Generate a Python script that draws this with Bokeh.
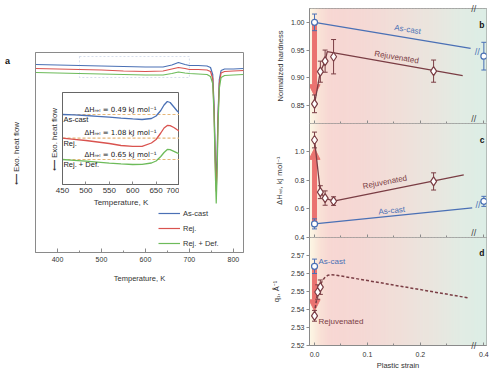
import numpy as np
from bokeh.plotting import figure
from bokeh.layouts import row, column
from bokeh.models import (Range1d, FixedTicker, CustomJSTickFormatter, NumeralTickFormatter,
                          Whisker, TeeHead, Arrow, NormalHead, Label, ColumnDataSource,
                          BoxAnnotation, Div)
from bokeh.core.properties import value
from bokeh.embed import file_html
from bokeh.resources import INLINE

FONT = "Liberation Sans"
BLUE = "#4a70b5"
RED = "#d9534f"
GREEN = "#6dbb5a"
BROWN = "#7a3d44"
ARROW_RED = "#ea7370"
AXIS = "#8a8a8a"
TXT = "#333333"

# ---------------- Panel a: DSC scans (arbitrary heat-flow units) ----------------
dsc_T = [350, 400, 450, 500, 550, 600, 640, 660, 675, 690, 700, 720, 740, 748, 753, 756,
         759, 761, 763, 765, 768, 772, 780, 800, 823]
dsc_ascast = [0.0, -0.005, -0.01, -0.015, -0.02, -0.025, -0.025, -0.005, 0.02, 0.0, -0.01,
              -0.01, -0.015, -0.03, -0.10, -0.40, -0.95, -1.15, -0.90, -0.50, -0.15, -0.06,
              -0.045, -0.045, -0.04]
dsc_rej = [-0.04, -0.045, -0.05, -0.055, -0.065, -0.07, -0.065, -0.045, -0.03, -0.04, -0.05,
           -0.05, -0.055, -0.07, -0.14, -0.45, -1.02, -1.27, -1.00, -0.55, -0.19, -0.085,
           -0.07, -0.065, -0.06]
dsc_rejdef = [-0.08, -0.085, -0.09, -0.095, -0.10, -0.105, -0.105, -0.09, -0.075, -0.085,
              -0.09, -0.095, -0.10, -0.12, -0.19, -0.50, -1.10, -1.39, -1.10, -0.62, -0.24,
              -0.13, -0.11, -0.105, -0.10]
zoom_window = [450, 700]

inset_T = [450, 475, 500, 525, 550, 575, 600, 620, 640, 650, 660, 667, 674, 680, 688, 695, 700]
inset_ascast = [5.8, 5.76, 5.7, 5.62, 5.53, 5.44, 5.36, 5.3, 5.4, 5.65, 6.2, 6.75, 7.1, 7.0,
                6.55, 6.15, 5.93]
inset_rej = [3.43, 3.32, 3.2, 3.05, 2.9, 2.7, 2.62, 2.62, 2.95, 3.3, 3.95, 4.45, 4.7, 4.68,
             4.5, 4.28, 4.13]
inset_rejdef = [1.3, 1.22, 1.13, 1.03, 0.93, 0.86, 0.8, 0.82, 0.95, 1.15, 1.6, 2.0, 2.3, 2.28,
                2.12, 1.97, 1.87]
inset_baseline = [5.8, 3.43, 1.3]
dH_rel = [0.49, 1.08, 0.65]
sample_names = ["As-cast", "Rej.", "Rej. + Def."]

# ---------------- Panels b-d: vs plastic strain ----------------
strain_ascast = [0.0, 0.4]
strain_rej = [0.0, 0.011, 0.020, 0.036, 0.225]

hard_ascast = [1.000, 0.939]
hard_ascast_err = [0.015, 0.025]
hard_rej = [0.853, 0.911, 0.930, 0.938, 0.912]
hard_rej_err = [0.016, 0.019, 0.020, 0.031, 0.020]
hard_ascast_fit_x = [0.0, 0.295]
hard_ascast_fit_y = [1.000, 0.953]
hard_rej_fit_x = [0.0, 0.011, 0.020, 0.024, 0.280]
hard_rej_fit_y = [0.853, 0.911, 0.930, 0.947, 0.904]

dh_ascast = [0.495, 0.652]
dh_ascast_err = [0.035, 0.035]
dh_rej = [1.08, 0.716, 0.675, 0.654, 0.791]
dh_rej_err = [0.055, 0.045, 0.050, 0.030, 0.060]
dh_ascast_fit_x = [0.0, 0.298]
dh_ascast_fit_y = [0.495, 0.607]
dh_rej_fit_x = [0.0, 0.011, 0.020, 0.036, 0.282]
dh_rej_fit_y = [1.08, 0.716, 0.675, 0.654, 0.837]

q_strain_ascast = [0.0]
q_ascast = [2.5640]
q_ascast_err = [0.004]
q_strain_rej = [0.0, 0.006, 0.011]
q_rej = [2.5365, 2.5497, 2.5524]
q_rej_err = [0.003, 0.004, 0.004]
q_rej_fit_x = [0.0, 0.005, 0.010, 0.015, 0.020, 0.025, 0.032, 0.040, 0.290]
q_rej_fit_y = [2.538, 2.548, 2.553, 2.556, 2.558, 2.559, 2.5593, 2.5591, 2.5465]

strain_ticks = [0.0, 0.1, 0.2, 0.4]
strain_minor = [0.05, 0.15, 0.25]

# broken strain axis: 0 .. 0.3 linear, then 0.4 drawn at 0.32
BREAK = 0.30
BREAK_POS = 0.32


def xb(v):
    return v if v <= BREAK else BREAK_POS + (v - 0.4)


XMIN, XMAX = -0.0095, 0.325

GRAD_X = [-0.0095, 0.0, 0.012, 0.03, 0.09, 0.16, 0.23, 0.28, 0.325]
GRAD_RGB = [(252, 247, 230), (251, 238, 222), (249, 224, 214), (247, 215, 211), (245, 216, 212),
            (240, 223, 217), (233, 230, 223), (225, 236, 228), (220, 237, 229)]


def style_axis(ax, size="7px"):
    ax.axis_line_color = AXIS
    ax.major_tick_line_color = AXIS
    ax.minor_tick_line_color = AXIS
    ax.major_label_text_font = FONT
    ax.major_label_text_font_size = size
    ax.major_label_text_color = TXT
    ax.axis_label_text_font = FONT
    ax.axis_label_text_font_style = "normal"
    ax.axis_label_text_color = TXT


def no_tick_yaxis(ax, label, standoff):
    ax.ticker = FixedTicker(ticks=[])
    ax.major_tick_line_color = None
    ax.minor_tick_line_color = None
    ax.major_tick_out = 0
    ax.major_tick_in = 0
    ax.minor_tick_out = 0
    ax.major_label_standoff = 0
    ax.axis_label = label
    ax.axis_label_text_font_size = "8px"
    ax.axis_label_standoff = standoff


# ======================= Panel a (main) =======================
pa = figure(width=260, height=294, x_range=Range1d(350, 823), y_range=Range1d(-1.88, 0.12),
            output_backend="svg", toolbar_location=None,
            min_border_left=27, min_border_right=25, min_border_top=48, min_border_bottom=46)
pa.grid.visible = False
pa.outline_line_color = AXIS
style_axis(pa.xaxis[0])
style_axis(pa.yaxis[0])
pa.xaxis.ticker = FixedTicker(ticks=[400, 500, 600, 700, 800], minor_ticks=[450, 550, 650, 750])
pa.xaxis.major_tick_in = 4
pa.xaxis.major_tick_out = 0
pa.xaxis.minor_tick_in = 2
pa.xaxis.minor_tick_out = 0
pa.xaxis.major_label_standoff = 4
pa.xaxis.axis_label = "Temperature, K"
pa.xaxis.axis_label_text_font_size = "7.5px"
pa.xaxis.axis_label_standoff = 9
no_tick_yaxis(pa.yaxis[0], "\u27f5  Exo. heat flow", 15)

pa.add_layout(BoxAnnotation(left=zoom_window[0], right=zoom_window[1], top=0.08, bottom=-0.13,
                            fill_alpha=0, line_color="#7b96c4", line_dash="2 2", line_width=1))
for ys, c, nm in zip([dsc_ascast, dsc_rej, dsc_rejdef], [BLUE, RED, GREEN], sample_names):
    pa.line(dsc_T, ys, line_color=c, line_width=1.2, legend_label=nm)
pa.legend.location = (121, 2)
pa.legend.background_fill_alpha = 0
pa.legend.border_line_alpha = 0
pa.legend.label_text_font = FONT
pa.legend.label_text_font_size = "7.5px"
pa.legend.label_text_color = TXT
pa.legend.glyph_width = 22
pa.legend.glyph_height = 10
pa.legend.label_height = 10
pa.legend.spacing = 5
pa.legend.padding = 2
pa.legend.margin = 0
pa.legend.label_standoff = 3

# ======================= Panel a (inset) =======================
pi = figure(frame_width=117, frame_height=92, x_range=Range1d(450, 700),
            y_range=Range1d(-1.2, 8.0), output_backend="svg", toolbar_location=None,
            min_border_left=17, min_border_right=10, min_border_top=2, min_border_bottom=25,
            margin=(-208, 0, 89, 27))
pi.grid.visible = False
pi.outline_line_color = "#666"
pi.border_fill_alpha = 0
style_axis(pi.xaxis[0], "8px")
style_axis(pi.yaxis[0], "8px")
pi.xaxis.axis_line_color = "#666"
pi.yaxis.axis_line_color = "#666"
pi.xaxis.ticker = FixedTicker(ticks=[450, 500, 550, 600, 650, 700])
pi.xaxis.major_tick_in = 3
pi.xaxis.major_tick_out = 0
pi.xaxis.major_label_standoff = 3
pi.xaxis.axis_label = "Temperature, K"
pi.xaxis.axis_label_text_font_size = "8px"
pi.xaxis.axis_label_standoff = 2
no_tick_yaxis(pi.yaxis[0], "\u27f5  Exo. heat flow", 4)

for b in inset_baseline:
    pi.line([inset_T[0], inset_T[-1]], [b, b], line_color="#e6b779", line_dash="3 2",
            line_width=1.2)
for ys, c in zip([inset_ascast, inset_rej, inset_rejdef], [BLUE, RED, GREEN]):
    pi.line(inset_T, ys, line_color=c, line_width=1.3)
dh_text = ["\u0394H\u1d63\u2091\u2097 = %.2f kJ mol\u207b\u00b9" % v for v in dH_rel]
pi.text(x=[497] * 3, y=[b + 0.1 for b in inset_baseline], text=dh_text,
        text_font=value("DejaVu Sans"), text_font_size="7px", text_baseline="bottom",
        text_color="#222")
pi.text(x=[452] * 3, y=[b - 0.5 for b in inset_baseline], text=sample_names,
        text_font=value(FONT), text_font_size="7.5px", text_baseline="middle",
        text_color="#222")

# panel letter "a" (html text placed over the left column)
div_a = Div(text="a", width=10, height=10, margin=(-242, 0, 232, -3),
            styles={"font-family": FONT, "font-size": "9px", "font-weight": "bold",
                    "line-height": "10px", "color": "#111"})


# ======================= Panels b-d =======================
def strain_panel(yr, height, yticks, fmt, ylabel, letter, bottom, lab_standoff,
                 top_border=0, bottom_border=0, **kw):
    p = figure(width=224, height=height, x_range=Range1d(XMIN, XMAX), y_range=Range1d(*yr),
               output_backend="svg", toolbar_location=None,
               min_border_left=39, min_border_right=6, min_border_top=top_border,
               min_border_bottom=(25 if bottom else bottom_border), **kw)
    p.grid.visible = False
    p.outline_line_color = AXIS
    edges = np.linspace(XMIN, XMAX, 121)
    mids = 0.5 * (edges[:-1] + edges[1:])
    cols = []
    for m in mids:
        rgb = [int(round(np.interp(m, GRAD_X, [c[k] for c in GRAD_RGB]))) for k in range(3)]
        cols.append("#%02x%02x%02x" % tuple(rgb))
    p.quad(left=edges[:-1], right=edges[1:] + 0.5 * (edges[1] - edges[0]), bottom=yr[0],
           top=yr[1], fill_color=cols, line_color=None, level="image")

    xa = p.xaxis[0]
    style_axis(xa)
    tick_pos = [xb(v) for v in strain_ticks]
    xa.ticker = FixedTicker(ticks=tick_pos, minor_ticks=strain_minor)
    xa.major_tick_in = 3
    xa.major_tick_out = 0
    xa.minor_tick_in = 2
    xa.minor_tick_out = 0
    if bottom:
        xa.formatter = CustomJSTickFormatter(
            args=dict(pos=tick_pos, lab=["%.1f" % v for v in strain_ticks]),
            code="const i = pos.findIndex(q => Math.abs(q - tick) < 1e-6); "
                 "return i >= 0 ? lab[i] : tick.toFixed(1);")
        xa.major_label_standoff = 6
        xa.axis_label = "Plastic strain"
        xa.axis_label_text_font_size = "7.5px"
        xa.axis_label_standoff = 1
    else:
        xa.formatter = CustomJSTickFormatter(code="return '';")
        xa.major_label_text_font_size = "1px"
        xa.major_label_standoff = 0

    ya = p.yaxis[0]
    style_axis(ya)
    ya.ticker = FixedTicker(ticks=yticks)
    ya.formatter = NumeralTickFormatter(format=fmt)
    ya.major_tick_out = 3
    ya.major_tick_in = 0
    ya.minor_tick_line_color = None
    ya.major_label_standoff = 2
    ya.axis_label = ylabel
    ya.axis_label_text_font_size = "7.5px"
    ya.axis_label_standoff = lab_standoff

    # axis break mark on the bottom axis
    p.text(x=[BREAK + 0.001], y=[yr[0]], text=["//"], text_font=value(FONT),
           text_font_size="9px", text_align="center",
           text_baseline=("middle" if bottom else "bottom"),
           text_color="#444", level="overlay")
    p.add_layout(Label(x=XMAX - 0.004, y=yr[1] - 0.1 * (yr[1] - yr[0]), text=letter,
                       text_font=FONT, text_font_size="8.5px", text_font_style="bold",
                       text_align="right", text_baseline="top", text_color="#111"))
    return p


def error_points(p, xs, ys, es, color, marker, size):
    xd = [xb(v) for v in xs]
    src = ColumnDataSource(dict(x=xd, y=ys, lo=[a - e for a, e in zip(ys, es)],
                                hi=[a + e for a, e in zip(ys, es)]))
    p.add_layout(Whisker(source=src, base="x", lower="lo", upper="hi", line_color=color,
                         line_width=1, level="underlay",
                         upper_head=TeeHead(size=5, line_color=color, line_width=1),
                         lower_head=TeeHead(size=5, line_color=color, line_width=1)))
    p.scatter("x", "y", source=src, marker=marker, size=size, line_color=color,
              fill_color="white", line_width=1.2)


def red_arrow(p, y_from, y_to):
    p.add_layout(Arrow(x_start=0, y_start=y_from, x_end=0, y_end=y_to + (y_from - y_to) * 0.1,
                       line_color=ARROW_RED, line_width=5, level="underlay",
                       end=NormalHead(size=11, fill_color=ARROW_RED, line_color=ARROW_RED,
                                      line_width=1)))


def line_label(p, x, y, txt, color, angle_deg):
    p.text(x=[x], y=[y], text=[txt], angle=np.deg2rad(angle_deg), text_font=value(FONT),
           text_font_size="8px", text_align="center", text_baseline="middle",
           text_color=color)


def break_on_line(p, fit_x, fit_y, pt_y):
    p.text(x=[0.5 * (fit_x[-1] + BREAK_POS)], y=[0.5 * (fit_y[-1] + pt_y)], text=["//"],
           text_font=value(FONT), text_font_size="9px", text_align="center",
           text_baseline="middle", text_color=BLUE)


# ---- b: hardness ----
yr_b = (0.8175, 1.025)
pb = strain_panel(yr_b, 119, [0.85, 0.90, 0.95, 1.00], "0.00", "Normalized hardness", "b",
                  False, 3, top_border=4)
pb.text(x=[BREAK + 0.001], y=[yr_b[1]], text=["//"], text_font=value(FONT),
        text_font_size="9px", text_align="center", text_baseline="middle", text_color="#444",
        level="overlay")
red_arrow(pb, hard_ascast[0], hard_rej[0])
pb.line(hard_ascast_fit_x, hard_ascast_fit_y, line_color=BLUE, line_width=1.3)
pb.line(hard_rej_fit_x, hard_rej_fit_y, line_color=BROWN, line_width=1.3)
break_on_line(pb, hard_ascast_fit_x, hard_ascast_fit_y, hard_ascast[1])
error_points(pb, strain_ascast, hard_ascast, hard_ascast_err, BLUE, "circle", 6)
error_points(pb, strain_rej, hard_rej, hard_rej_err, BROWN, "diamond", 9)
line_label(pb, 0.176, 0.987, "As-cast", BLUE, -9)
line_label(pb, 0.155, 0.937, "Rejuvenated", BROWN, -9.4)

# ---- c: relaxation enthalpy ----
yr_c = (0.4, 1.195)
pc = strain_panel(yr_c, 119, [0.4, 0.6, 0.8, 1.0], "0.0",
                  "\u0394H\u1d63\u2091\u2097, kJ mol\u207b\u00b9", "c", False, 8,
                  bottom_border=5)
pc.yaxis.axis_label_text_font = "DejaVu Sans"
pc.yaxis.axis_label_text_font_size = "7px"
red_arrow(pc, dh_ascast[0], dh_rej[0])
pc.line(dh_ascast_fit_x, dh_ascast_fit_y, line_color=BLUE, line_width=1.3)
pc.line(dh_rej_fit_x, dh_rej_fit_y, line_color=BROWN, line_width=1.3)
break_on_line(pc, dh_ascast_fit_x, dh_ascast_fit_y, dh_ascast[1])
error_points(pc, strain_ascast, dh_ascast, dh_ascast_err, BLUE, "circle", 6)
error_points(pc, strain_rej, dh_rej, dh_rej_err, BROWN, "diamond", 9)
line_label(pc, 0.133, 0.786, "Rejuvenated", BROWN, 11)
line_label(pc, 0.146, 0.587, "As-cast", BLUE, 5.9)

# ---- d: first diffraction peak position ----
yr_d = (2.52, 2.58)
pd_ = strain_panel(yr_d, 135, [2.52, 2.53, 2.54, 2.55, 2.56, 2.57], "0.00",
                   "q\u2081, \u00c5\u207b\u00b9", "d", True, 7, margin=(-5, 0, 0, 0))
pd_.border_fill_alpha = 0
red_arrow(pd_, q_ascast[0], q_rej[0])
pd_.line(q_rej_fit_x, q_rej_fit_y, line_color=BROWN, line_width=1.5, line_dash="3 2")
error_points(pd_, q_strain_ascast, q_ascast, q_ascast_err, BLUE, "circle", 6)
error_points(pd_, q_strain_rej, q_rej, q_rej_err, BROWN, "diamond", 9)
pd_.text(x=[0.0075], y=[2.5667], text=["As-cast"], text_font=value(FONT), text_font_size="8px",
         text_baseline="middle", text_color=BLUE)
pd_.text(x=[0.0075], y=[2.5332], text=["Rejuvenated"], text_font=value(FONT),
         text_font_size="8px", text_baseline="middle", text_color=BROWN)

layout = row(column(pa, pi, div_a), column(pb, pc, pd_), margin=(4, 0, 0, 8))
open("out.html", "w").write(file_html(layout, INLINE))
